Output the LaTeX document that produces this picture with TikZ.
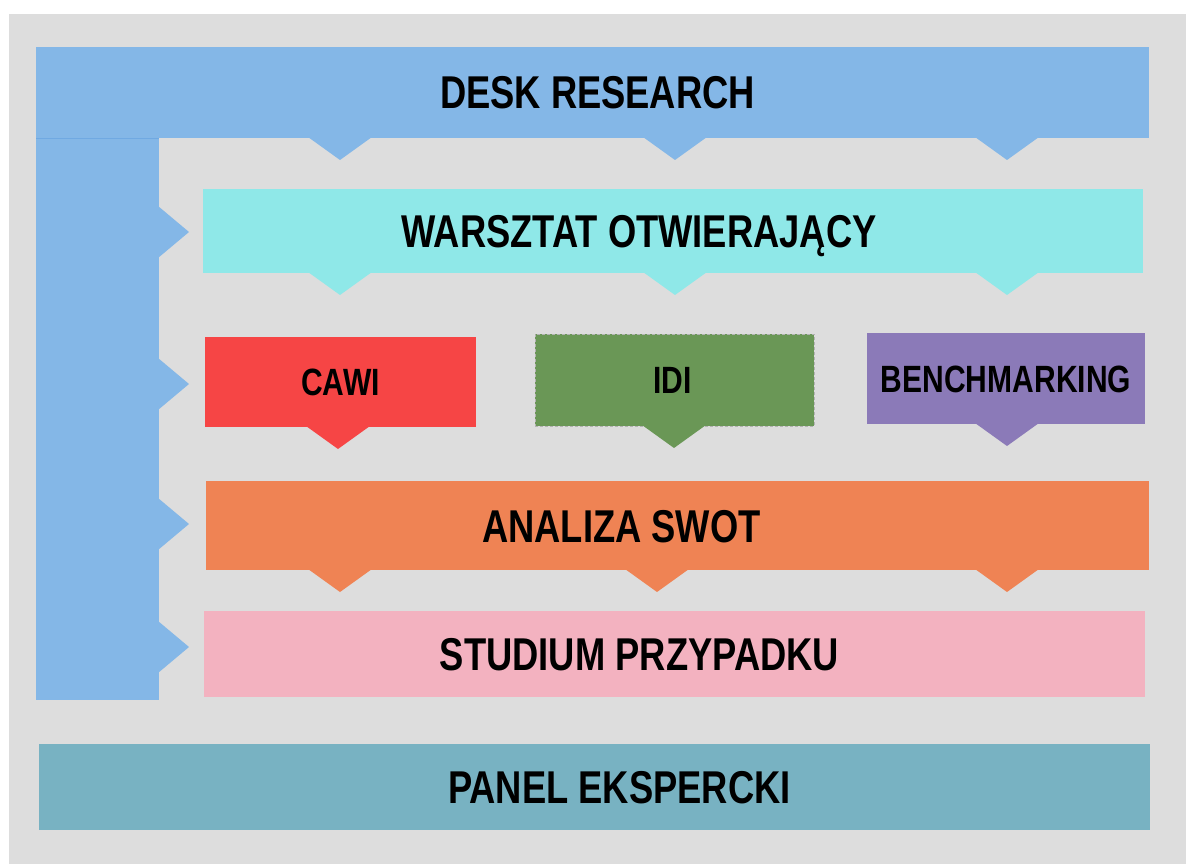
\documentclass[tikz,border=0pt]{standalone}
\usepackage{fontspec}
\setmainfont{Liberation Sans}[FakeStretch=0.79]
\usepackage{tikz}
\usetikzlibrary{positioning,calc}
\definecolor{bggray}{HTML}{DDDDDD}
\definecolor{deskblue}{HTML}{84B7E7}
\definecolor{deskline}{HTML}{70A9E2}
\definecolor{warsztatcyan}{HTML}{8FE8E8}
\definecolor{cawired}{HTML}{F64545}
\definecolor{idigreen}{HTML}{6A9756}
\definecolor{benchpurple}{HTML}{8B7AB8}
\definecolor{swotorange}{HTML}{EF8354}
\definecolor{studiumpink}{HTML}{F3B2C0}
\definecolor{panelteal}{HTML}{78B2C2}
\newcommand*{\bigtxt}{\fontsize{46}{50}\selectfont\bfseries}
\newcommand*{\smalltxt}{\fontsize{38}{42}\selectfont\bfseries}
% tab pointing down from the bottom of a box: colour, box, x
\newcommand*{\tabdown}[3]{\fill[#1] ($(#3-32,0 |- #2.south)+(0,-1)$) -- ($(#3+32,0 |- #2.south)+(0,-1)$) -- ($(#3,0 |- #2.south)+(0,22)$) -- cycle;}
% tab pointing right from the side bar: y
\newcommand*{\tabright}[1]{\fill[deskblue] ($(side.east |- 0,#1)+(-1,-26)$) -- ($(side.east |- 0,#1)+(-1,26)$) -- ($(side.east |- 0,#1)+(30,0)$) -- cycle;}

\begin{document}
\begin{tikzpicture}[x=1pt, y=-1pt]
\tikzstyle{band}=[rectangle, inner sep=0pt, outer sep=0pt, anchor=north west]
\tikzstyle{bandtext}=[inner sep=0pt, text height=33pt, text depth=0pt, font=\bigtxt, text=black]
\tikzstyle{boxtext}=[inner sep=0pt, text height=27pt, text depth=0pt, font=\smalltxt, text=black]
\useasboundingbox (0,0) rectangle (1186,864);
\fill[white] (0,0) rectangle (1186,864);
\fill[bggray] (9,14) rectangle (1186,864);

\node[band, fill=deskblue, minimum width=1113pt, minimum height=91pt]     (desk)     at (36,47)   {};
\node[band, fill=deskblue, minimum width=123pt, minimum height=562pt]     (side)     at (36,138)  {};
\node[band, fill=warsztatcyan, minimum width=940pt, minimum height=84pt]  (warsztat) at (203,189) {};
\node[band, fill=cawired, minimum width=271pt, minimum height=90pt]       (cawi)     at (205,337) {};
\node[band, fill=idigreen, draw=gray!60, densely dashed, very thin,
      minimum width=279pt, minimum height=92pt]                            (idi)      at (535,334) {};
\node[band, fill=benchpurple, minimum width=278pt, minimum height=91pt]   (bench)    at (867,333) {};
\node[band, fill=swotorange, minimum width=943pt, minimum height=89pt]    (swot)     at (206,481) {};
\node[band, fill=studiumpink, minimum width=941pt, minimum height=86pt]   (studium)  at (204,611) {};
\node[band, fill=panelteal, minimum width=1111pt, minimum height=86pt]    (panel)    at (39,744)  {};
\draw[deskline, thin] (side.north west) -- (side.north east);

\tabdown{deskblue}{desk}{340}
\tabdown{deskblue}{desk}{675}
\tabdown{deskblue}{desk}{1007}
\tabdown{warsztatcyan}{warsztat}{340}
\tabdown{warsztatcyan}{warsztat}{675}
\tabdown{warsztatcyan}{warsztat}{1007}
\tabdown{cawired}{cawi}{338}
\tabdown{idigreen}{idi}{674}
\tabdown{benchpurple}{bench}{1007}
\tabdown{swotorange}{swot}{340}
\tabdown{swotorange}{swot}{657}
\tabdown{swotorange}{swot}{1007}
\tabright{232}
\tabright{384}
\tabright{524}
\tabright{647}

\node[bandtext] (desktxt)     at ([xshift=5pt]desk.center)      {DESK RESEARCH};
\node[bandtext] (warsztattxt) at ([xshift=-34pt]warsztat.center) {WARSZTAT OTWIERAJĄCY};
\node[boxtext]  (cawitxt)     at (cawi.center)                   {CAWI};
\node[boxtext]  (iditxt)      at ([xshift=-2pt]idi.center)       {IDI};
\node[boxtext]  (benchtxt)    at (bench.center)                  {BENCHMARKING};
\node[bandtext] (swottxt)     at ([xshift=-56pt]swot.center)     {ANALIZA SWOT};
\node[bandtext] (studiumtxt)  at ([xshift=-35pt]studium.center)  {STUDIUM PRZYPADKU};
\node[bandtext] (paneltxt)    at ([xshift=25pt]panel.center)     {PANEL EKSPERCKI};
\end{tikzpicture}
\end{document}
